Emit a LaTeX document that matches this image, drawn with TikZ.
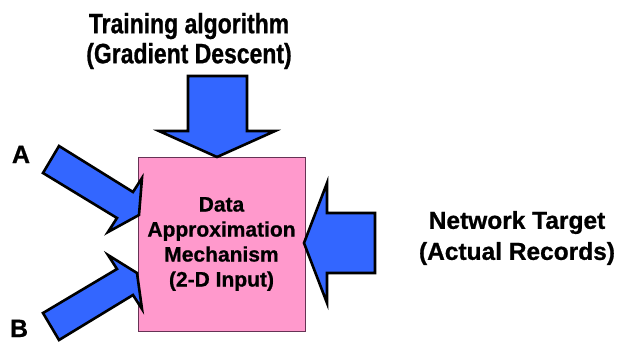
\documentclass[tikz,border=0pt]{standalone}
\usepackage{fontspec}
\setmainfont{Liberation Sans}[BoldFeatures={FakeBold=0.8}]
\newfontfamily\titlefont{Liberation Sans}[FakeStretch=0.82,BoldFeatures={FakeBold=0.8}]
\definecolor{arrowblue}{HTML}{3366FF}
\definecolor{boxpink}{HTML}{FF99CC}
\definecolor{boxedge}{HTML}{663355}
\begin{document}
\begin{tikzpicture}[x=1pt,y=-1pt,
  blockarrow/.style={draw=black,fill=arrowblue,line width=2.6pt,line join=miter},
  label/.style={inner sep=0pt,align=center,font=\bfseries}]
\useasboundingbox (0,0) rectangle (620,341);

% central block
\draw[fill=boxpink,draw=boxedge,line width=0.8pt] (138,157) rectangle (305,331);
\node[label,font=\bfseries\fontsize{21}{25}\selectfont] (mech) at (221.5,244)
  {Data\\Approximation\\Mechanism\\(2-D Input)};

% arrow from the training algorithm (top)
\draw[blockarrow] (188,76) -- (247,76) -- (247,131) -- (275,131) -- (217,157)
  -- (159,131) -- (188,131) -- cycle;
% arrow from the network target (right)
\draw[blockarrow] (375,213) -- (375,273) -- (327,273) -- (327,303) -- (304,243)
  -- (327,183) -- (327,213) -- cycle;
% input A
\draw[blockarrow] (59,146) -- (133,192) -- (142,178) -- (139,215) -- (108,232)
  -- (117,218) -- (43,173) -- cycle;
% input B
\draw[blockarrow] (43,313) -- (117,269) -- (108,255) -- (137,273) -- (142,309)
  -- (133,295) -- (59,340) -- cycle;

% labels
\node[label,font=\titlefont\bfseries\fontsize{28}{30}\selectfont] (train) at (189,41)
  {Training algorithm\\(Gradient Descent)};
\node[label,font=\bfseries\fontsize{24.5}{31}\selectfont] (target) at (517,238)
  {Network Target\\(Actual Records)};
\node[label,font=\bfseries\fontsize{25}{25}\selectfont,anchor=base] (ina) at (21,163) {A};
\node[label,font=\bfseries\fontsize{25}{25}\selectfont,anchor=base] (inb) at (19,337) {B};
\end{tikzpicture}
\end{document}
